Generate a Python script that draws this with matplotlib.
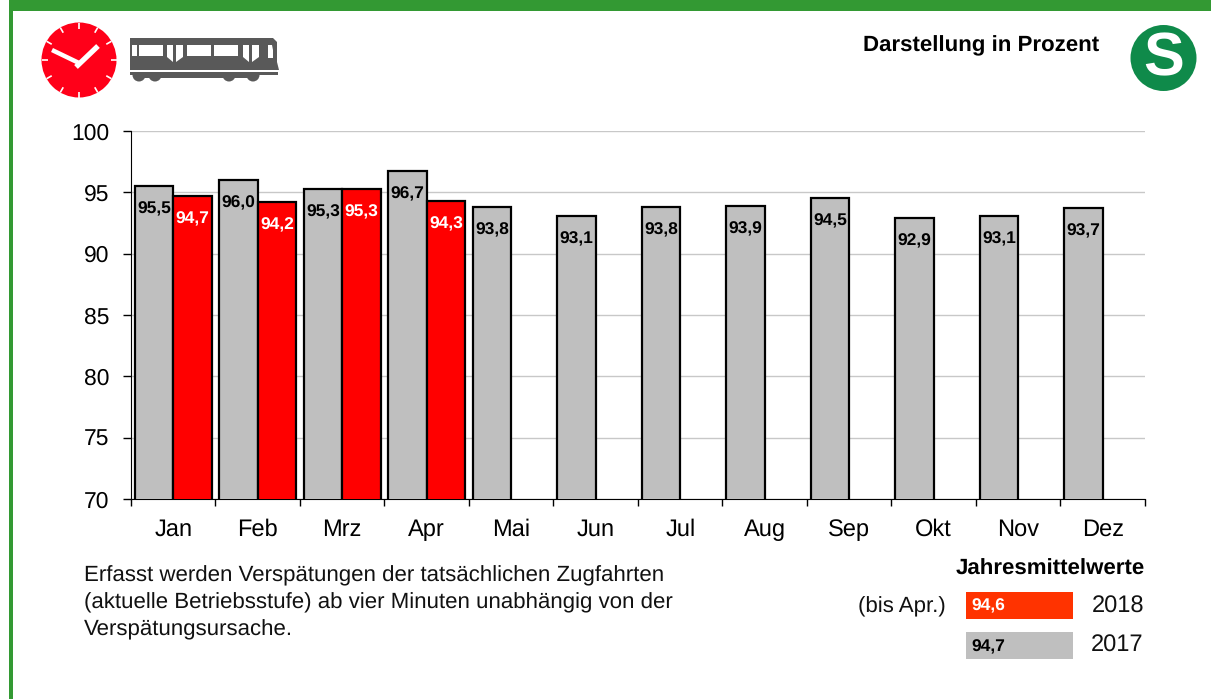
"""Monthly punctuality chart, S-Bahn, 2017 against 2018."""

from __future__ import annotations

import matplotlib

matplotlib.use("Agg")
import matplotlib.pyplot as plt
import numpy as np
from matplotlib.patches import Circle, Polygon, Rectangle

MONTHS = ["Jan", "Feb", "Mrz", "Apr", "Mai", "Jun", "Jul", "Aug", "Sep", "Okt", "Nov", "Dez"]
VALUES_2017 = [95.5, 96.0, 95.3, 96.7, 93.8, 93.1, 93.8, 93.9, 94.5, 92.9, 93.1, 93.7]
VALUES_2018 = [94.7, 94.2, 95.3, 94.3]
Y_TICKS = [70, 75, 80, 85, 90, 95, 100]
MEAN_2018 = "94,6"
MEAN_2017 = "94,7"
CAPTION = [
    "Erfasst werden Verspätungen der tatsächlichen Zugfahrten",
    "(aktuelle Betriebsstufe) ab vier Minuten unabhängig von der",
    "Verspätungsursache.",
]

W, H = 1211, 699
GREEN = "#339933"
GRAY = "#bfbfbf"
RED = "#ff0000"
LABEL_SIZE = 12.5
TEXT_SIZE = 16

plt.rcParams["font.family"] = ["Liberation Sans", "DejaVu Sans"]
plt.rcParams["text.hinting"] = "no_hinting"


def comma(value: float) -> str:
    return f"{value:.1f}".replace(".", ",")


def draw_chart(fig: plt.Figure) -> None:
    ax = fig.add_axes([131 / W, 1 - 499 / H, 1014 / W, 368 / H])
    x = np.arange(len(MONTHS))
    width = 0.458
    bars_17 = ax.bar(x + 0.5, VALUES_2017, -width, align="edge", color=GRAY,
                     edgecolor="black", linewidth=1.6, zorder=3)
    bars_18 = ax.bar(x[:len(VALUES_2018)] + 0.5, VALUES_2018, width, align="edge",
                     color=RED, edgecolor="black", linewidth=1.6, zorder=3)

    for bars, values, colour in ((bars_17, VALUES_2017, "black"), (bars_18, VALUES_2018, "white")):
        for bar, value in zip(bars, values):
            ax.annotate(comma(value), (bar.get_x() + bar.get_width() / 2, value),
                        xytext=(0, -16.5), textcoords="offset points", ha="center", va="center",
                        fontsize=LABEL_SIZE, fontweight="bold", color=colour, zorder=4)

    ax.set_xlim(0, 12)
    ax.set_ylim(70, 100)
    ax.set_yticks(Y_TICKS)
    ax.set_xticks(np.arange(13))
    ax.set_xticklabels([])
    ax.set_xticks(x + 0.5, MONTHS, minor=True)
    ax.tick_params(axis="x", which="major", length=5, width=1, direction="out")
    ax.tick_params(axis="x", which="minor", length=0, pad=14, labelsize=17)
    ax.tick_params(axis="y", length=6, width=1, direction="out", pad=9.4, labelsize=16.5)
    ax.grid(axis="y", color="#c8c8c8", linewidth=1, zorder=0)
    ax.set_axisbelow(True)
    ax.spines["top"].set_visible(False)
    ax.spines["right"].set_visible(False)


def draw_clock(ov: plt.Axes) -> None:
    cx, cy, r = 79, 60, 37.5
    ov.add_patch(Circle((cx, cy), r, color="#ff0019", lw=0))
    for angle in np.arange(0, 360, 30):
        a = np.radians(angle)
        ov.plot([cx + (r - 6) * np.cos(a), cx + r * np.cos(a)],
                [cy + (r - 6) * np.sin(a), cy + r * np.sin(a)],
                color="white", lw=1.2, solid_capstyle="butt")
    ov.plot([52, 79], [50, 63], color="white", lw=3.2, solid_capstyle="butt")
    ov.plot([76, 98], [67, 46], color="white", lw=3.8, solid_capstyle="butt")


def draw_train(ov: plt.Axes) -> None:
    dark = "#595959"
    for wheel_x in (139, 155, 229, 253):
        ov.add_patch(Circle((wheel_x, 75), 6.5, color=dark, lw=0))
    ov.add_patch(Rectangle((130, 68), 150, 4, color="white", lw=0))
    ov.add_patch(Polygon([(130, 38), (273, 38), (277, 42), (277, 62), (279, 70), (130, 70)],
                         color=dark, lw=0))
    ov.add_patch(Rectangle((130, 72), 148, 3, color=dark, lw=0))
    ov.add_patch(Rectangle((140, 75), 115, 3, color=dark, lw=0))
    for left, right in ((132, 137), (139, 163), (187, 211), (214, 238)):
        ov.add_patch(Rectangle((left, 45), right - left, 11, color="white", lw=0))
    for left in (167, 243):
        ov.add_patch(Polygon([(left, 45), (left + 6, 45), (left + 6, 62), (left, 57)], color="white", lw=0))
        ov.add_patch(Polygon([(left + 9, 45), (left + 16, 45), (left + 16, 57), (left + 9, 62)],
                             color="white", lw=0))
    ov.add_patch(Polygon([(268, 45), (272, 45), (273, 50), (273, 58), (268, 58)], color="white", lw=0))


def draw_overlay(fig: plt.Figure) -> None:
    ov = fig.add_axes([0, 0, 1, 1], zorder=5)
    ov.set_xlim(0, W)
    ov.set_ylim(H, 0)
    ov.axis("off")
    ov.patch.set_alpha(0)

    ov.add_patch(Rectangle((9, 0), W - 9, 11, color=GREEN, lw=0))
    ov.add_patch(Rectangle((9, 0), 4, H, color=GREEN, lw=0))

    draw_clock(ov)
    draw_train(ov)

    ov.add_patch(Circle((1163.5, 58), 33, color="#0f8a4a", lw=0))
    ov.text(1163.5, 60, "S", color="white", fontsize=44, fontweight="bold", ha="center", va="center")
    ov.text(1099, 51, "Darstellung in Prozent", fontsize=TEXT_SIZE, fontweight="bold", ha="right", va="baseline")

    for y, line in zip((581, 608, 635), CAPTION):
        ov.text(84, y, line, fontsize=TEXT_SIZE, ha="left", va="baseline", color="#111111")

    ov.text(1145, 575, "Jahresmittelwerte", fontsize=TEXT_SIZE, fontweight="bold", ha="right", va="baseline")
    ov.text(946, 612, "(bis Apr.)", fontsize=TEXT_SIZE, ha="right", va="baseline", color="#111111")
    ov.add_patch(Rectangle((966, 592), 107, 27, color="#ff3300", lw=0))
    ov.add_patch(Rectangle((966, 632), 107, 27, color=GRAY, lw=0))
    ov.text(971, 606, MEAN_2018, fontsize=LABEL_SIZE, fontweight="bold",
            color="white", ha="left", va="center")
    ov.text(971, 647, MEAN_2017, fontsize=LABEL_SIZE, fontweight="bold",
            color="black", ha="left", va="center")
    ov.text(1144, 613, "2018", fontsize=17, ha="right", va="baseline", color="#111111")
    ov.text(1143, 652, "2017", fontsize=17, ha="right", va="baseline", color="#111111")


def main() -> None:
    fig = plt.figure(figsize=(W / 100, H / 100), dpi=100)
    draw_chart(fig)
    draw_overlay(fig)
    fig.savefig("out.png", dpi=100)


if __name__ == "__main__":
    main()
